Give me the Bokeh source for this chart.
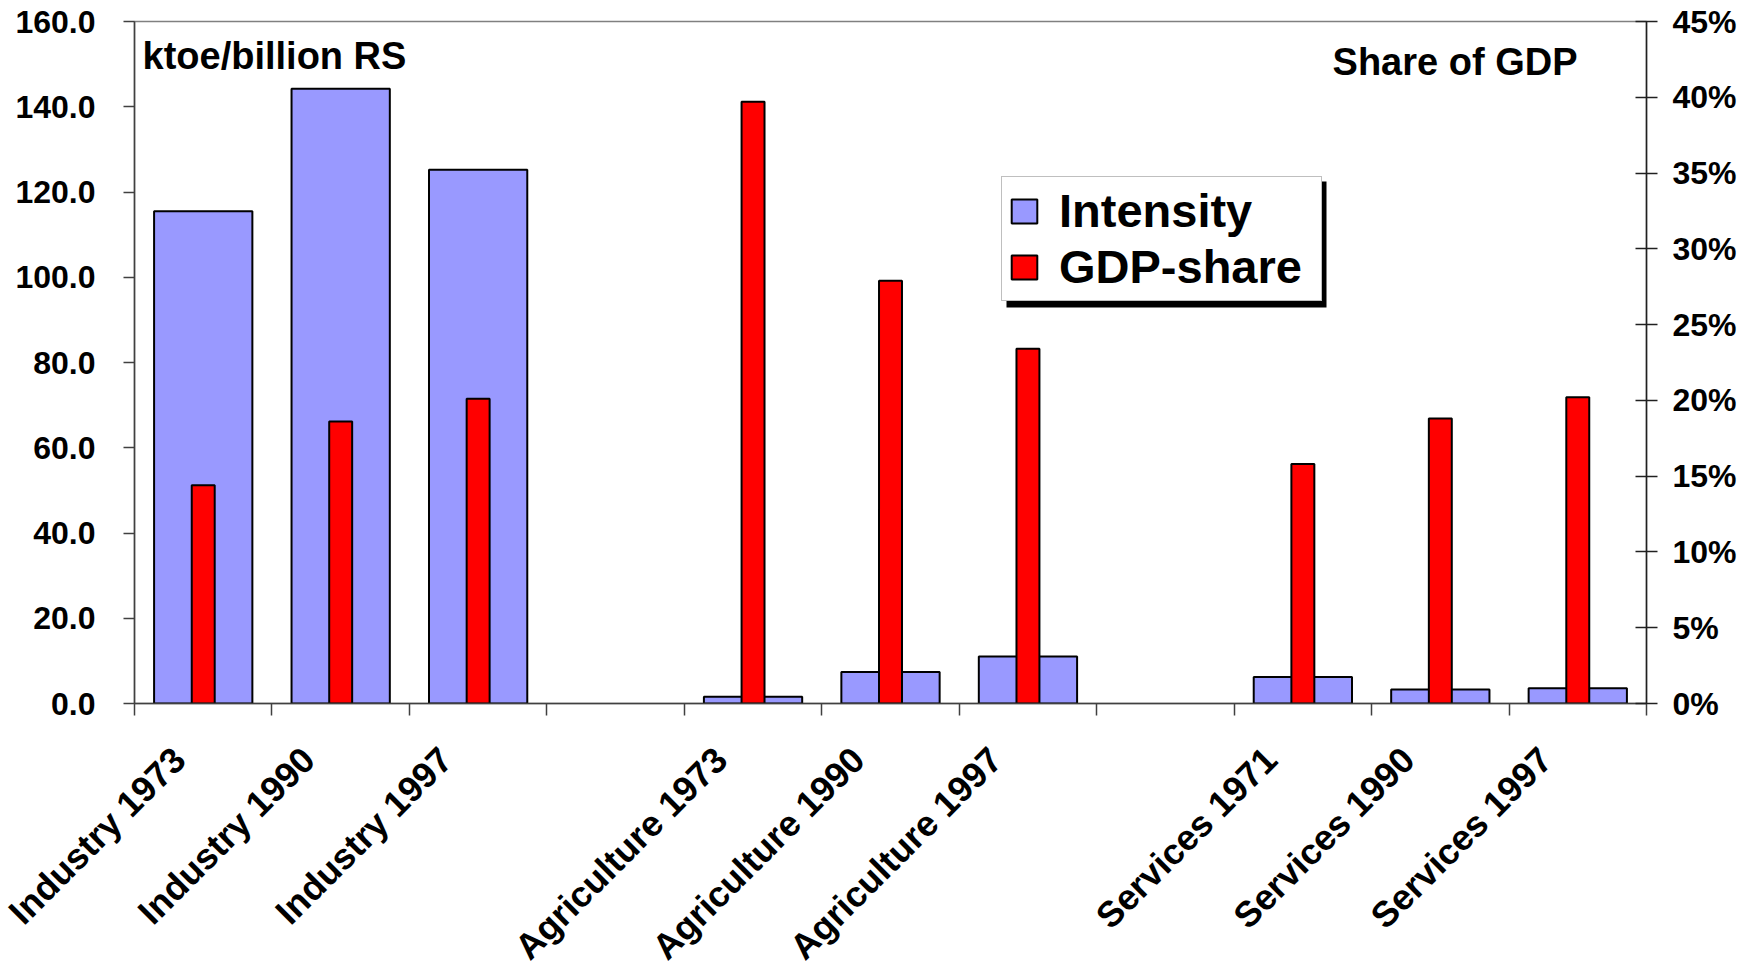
import numpy as np
from math import pi
from bokeh.plotting import figure
from bokeh.models import (Range1d, LinearAxis, FixedTicker, NumeralTickFormatter,
                          Legend, LegendItem, Label, BoxAnnotation, ColumnDataSource)
from bokeh.embed import file_html
from bokeh.resources import INLINE

# ---------------- data ----------------
categories = ["Industry 1973", "Industry 1990", "Industry 1997", "",
              "Agriculture 1973", "Agriculture 1990", "Agriculture 1997", "",
              "Services 1971", "Services 1990", "Services 1997"]
intensity = [115.5, 144.2, 125.2, None, 1.6, 7.4, 11.0, None, 6.2, 3.3, 3.6]   # ktoe/billion RS
gdp_share = [0.144, 0.186, 0.201, None, 0.397, 0.279, 0.234, None, 0.158, 0.188, 0.202]
left_ticks = [0, 20, 40, 60, 80, 100, 120, 140, 160]
right_ticks = [0, 0.05, 0.10, 0.15, 0.20, 0.25, 0.30, 0.35, 0.40, 0.45]
series_names = ["Intensity", "GDP-share"]
left_title = "ktoe/billion RS"
right_title = "Share of GDP"

FONT = "Liberation Sans"
BLUE = "#9999FF"
RED = "#FF0000"

n = len(categories)
idx = [i for i, c in enumerate(categories) if c]
src = ColumnDataSource(dict(
    x=[i + 0.5 for i in idx],
    intensity=[intensity[i] for i in idx],
    share=[gdp_share[i] for i in idx],
))

p = figure(frame_width=1512, frame_height=682,
           min_border_left=134, min_border_right=101, min_border_top=21, min_border_bottom=262,
           x_range=Range1d(0, n), y_range=Range1d(left_ticks[0], left_ticks[-1]),
           output_backend="svg", toolbar_location=None, x_axis_type=None, y_axis_type=None)
p.extra_y_ranges = {"share": Range1d(right_ticks[0], right_ticks[-1])}
p.background_fill_color = "white"
p.border_fill_color = "white"
p.outline_line_color = "#808080"
p.outline_line_width = 1.5

# bars
blue = p.vbar(x="x", top="intensity", bottom=0, width=0.715, source=src,
              fill_color=BLUE, line_color="black", line_width=2)
red = p.vbar(x="x", top="share", bottom=0, width=0.167, source=src, y_range_name="share",
             fill_color=RED, line_color="black", line_width=2)

# left axis
lt = FixedTicker(ticks=left_ticks)
yl = LinearAxis(ticker=lt, formatter=NumeralTickFormatter(format="0.0"))
yl.major_label_text_font = FONT
yl.major_label_text_font_style = "bold"
yl.major_label_text_font_size = "32px"
yl.major_label_text_color = "black"
yl.major_tick_in = 0
yl.major_tick_out = 11
yl.minor_tick_line_color = None
yl.major_label_standoff = 28
yl.axis_line_color = "#404040"
yl.axis_line_width = 1.5
yl.major_tick_line_color = "#404040"
yl.major_tick_line_width = 1.5
p.add_layout(yl, "left")

# right axis
rt = FixedTicker(ticks=right_ticks)
yr = LinearAxis(y_range_name="share", ticker=rt, formatter=NumeralTickFormatter(format="0%"))
yr.major_label_text_font = FONT
yr.major_label_text_font_style = "bold"
yr.major_label_text_font_size = "32px"
yr.major_label_text_color = "black"
yr.major_tick_in = 11
yr.major_tick_out = 11
yr.minor_tick_line_color = None
yr.major_label_standoff = 15
yr.axis_line_color = "#202020"
yr.axis_line_width = 1.5
yr.major_tick_line_color = "#202020"
yr.major_tick_line_width = 1.5
p.add_layout(yr, "right")

# bottom axis: labels near slot centres (rotated), tick marks at slot boundaries
label_shift = 0.235
label_pos = [i + 0.5 - label_shift for i in idx]
xt = FixedTicker(ticks=label_pos, minor_ticks=list(range(n + 1)))
xb = LinearAxis(ticker=xt)
xb.major_label_overrides = {pos: categories[i] for pos, i in zip(label_pos, idx)}
xb.major_label_orientation = pi / 4
xb.major_label_text_font = FONT
xb.major_label_text_font_style = "bold"
xb.major_label_text_font_size = "36px"
xb.major_label_text_color = "black"
xb.major_tick_in = 0
xb.major_tick_out = 0
xb.major_tick_line_color = None
xb.minor_tick_in = 0
xb.minor_tick_out = 12
xb.minor_tick_line_color = "#404040"
xb.minor_tick_line_width = 1.5
xb.major_label_standoff = 38
xb.axis_line_color = "#404040"
xb.axis_line_width = 1.5
p.add_layout(xb, "below")

# grid
p.ygrid.ticker = lt
p.ygrid.grid_line_color = "#3a3a3a"
p.ygrid.grid_line_width = 1
p.xgrid.visible = False

# axis titles inside plot
p.add_layout(Label(x=0, y=left_ticks[-1], x_offset=8, y_offset=-34, text=left_title,
                   text_font=FONT, text_font_style="bold", text_font_size="38px",
                   text_color="black", text_baseline="alphabetic", text_align="left"))
p.add_layout(Label(x=n, y=left_ticks[-1], x_offset=-69, y_offset=-40, text=right_title,
                   text_font=FONT, text_font_style="bold", text_font_size="38px",
                   text_color="black", text_baseline="alphabetic", text_align="right"))

# legend shadow + legend
shadow = BoxAnnotation(left=872, right=1192, bottom=396, top=522,
                       left_units="screen", right_units="screen",
                       bottom_units="screen", top_units="screen",
                       fill_color="black", fill_alpha=1.0, line_color=None)
p.add_layout(shadow)
legend = Legend(items=[LegendItem(label=series_names[0], renderers=[blue]),
                       LegendItem(label=series_names[1], renderers=[red])],
                location=(867, 402))
legend.label_text_font = FONT
legend.label_text_font_style = "bold"
legend.label_text_font_size = "47px"
legend.label_text_color = "black"
legend.glyph_width = 32
legend.glyph_height = 30
legend.label_standoff = 19
legend.label_width = 256
legend.padding = 6
legend.spacing = 1
legend.margin = 0
legend.border_line_color = "#808080"
legend.border_line_width = 1.5
legend.background_fill_color = "white"
legend.background_fill_alpha = 1.0
p.add_layout(legend, "center")

open("out.html", "w").write(file_html(p, INLINE))
